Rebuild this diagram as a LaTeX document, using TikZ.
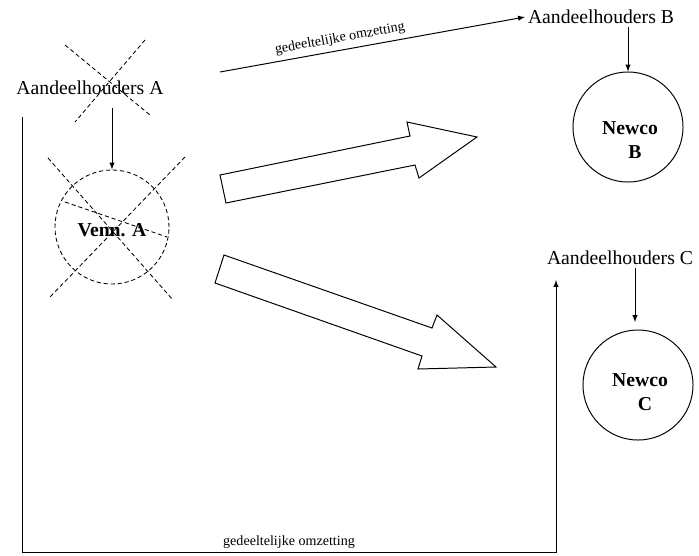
\documentclass[tikz,border=0pt]{standalone}
\usepackage{fontspec}
\setmainfont{Liberation Serif}
\usetikzlibrary{positioning}
\usetikzlibrary{calc}
\tikzset{
	holder/.style={inner sep=2pt, font=\fontsize{14}{16}\selectfont},
	company/.style={draw, circle, line width=0.7pt, inner sep=0pt, minimum size=2.75cm},
	cname/.style={align=center, font=\fontsize{14}{17}\selectfont\bfseries},
	% strike-out lines over the old company
	cross/.style={dash pattern=on 3pt off 2pt, line width=0.6pt},
	bigarrow/.style={draw, fill=white, line width=0.7pt, line join=miter},
	note/.style={font=\fontsize{10}{12}\selectfont},
}

\begin{document}
\begin{tikzpicture}[x=0.025cm, y=-0.025cm]
	\useasboundingbox (0,0) rectangle (699,555);
	
	\node (ahA) [holder] at (90,88) {Aandeelhouders A};
	\node (vennA) [company, cross, minimum size=2.85cm] at (112,227) {};
	\node (vennAtxt) [cname] at (112,230) {Venn. A};
	
	\node (ahB) [holder] at (601,17) {Aandeelhouders B};
	\node (newcoB) [company] at (628,127) {};
	\node (newcoBtxt) [cname] at (630,140) {Newco\\\hspace*{0.5em}B};
	
	\node (ahC) [holder] at (620,258) {Aandeelhouders C};
	\node (newcoC) [company] at (638,385) {};
	\node (newcoCtxt) [cname] at (640,392) {Newco\\\hspace*{0.5em}C};
	
	\coordinate (top0) at (220,72);
	\coordinate (bot0) at (22,117);
	\coordinate (bot1) at (22,552);
	\coordinate (bot2) at (556,552);
	\coordinate (bot3) at (556,280);
	
	% crossed out
	\begin{scope}[cross]
		\draw (65,45) -- (150,115);
		\draw (145,40) -- (75,122);
		\draw (48,158) -- (173,300);
		\draw (185,157) -- (50,297);
		\draw (65,202) -- (167,237);
	\end{scope}
	
	\begin{scope}[line width=0.7pt, black, ->, >=latex]
		\draw[shorten <=2.5mm] (vennA.north |- ahA.south) -- (vennA.north);
		\draw (ahB.south -| newcoB) -- (newcoB.north);
		\draw (ahC.south -| 635,0) -- (635,322);
		\draw (top0) -- node[note, sloped, above, pos=0.4] {gedeeltelijke omzetting} (ahB.west);
		\draw (bot0) -- (bot1) -- node[note, above, pos=0.5, yshift=-1pt] {gedeeltelijke omzetting} (bot2) -- (bot3);
	\end{scope}
	
	% splitting arrows
	\draw[bigarrow] (220,175) -- (410,136) -- (407,122) -- (477,137) -- (419,178) -- (415,165) -- (226,203) -- cycle;
	\draw[bigarrow] (224,255) -- (432,328) -- (437,315) -- (496,367) -- (418,369) -- (422,356) -- (215,283) -- cycle;
\end{tikzpicture}
\end{document}
